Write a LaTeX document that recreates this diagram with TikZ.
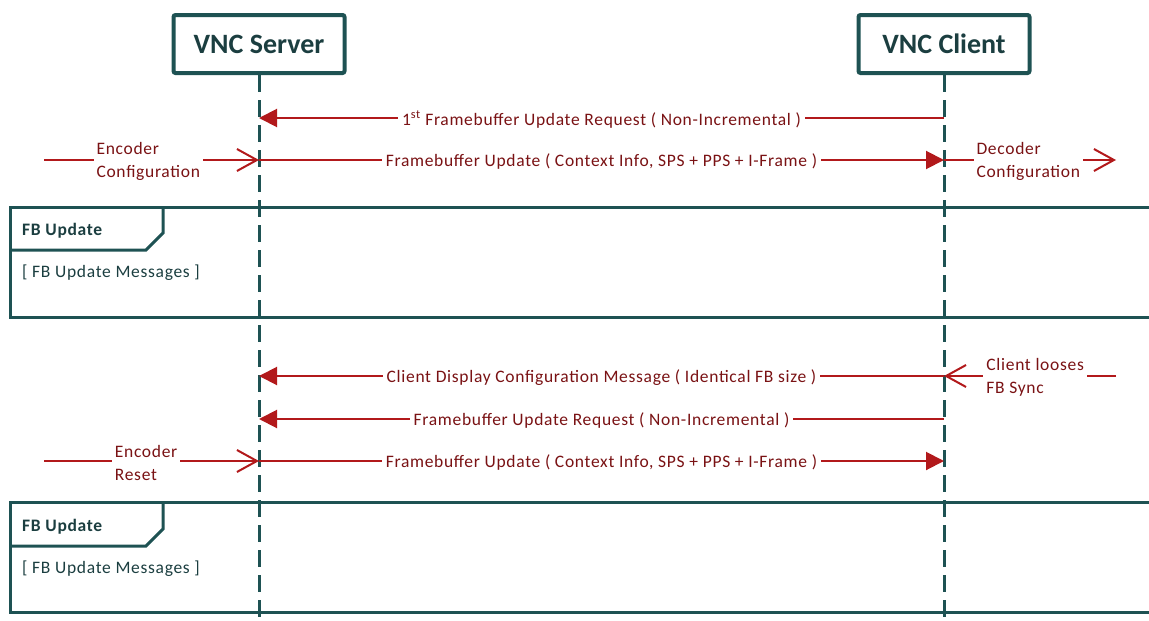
\documentclass[tikz,border=0pt]{standalone}
\usepackage{fontspec}
\setmainfont{Carlito}
\newfontfamily\lsfont[LetterSpace=4]{Carlito}
\usetikzlibrary{arrows.meta}
\definecolor{tealline}{HTML}{1E5253}
\definecolor{tealtext}{HTML}{1B3E40}
\definecolor{msgred}{HTML}{B2191B}
\definecolor{msgtxt}{HTML}{7A1214}
\begin{document}
\begin{tikzpicture}[x=1pt,y=-1pt,
  actor/.style={draw=tealline, line width=4pt, rounded corners=2pt, minimum width=171pt, minimum height=58pt,
    font=\fontsize{28}{32}\selectfont\bfseries, text=tealtext, fill=white},
  lifeline/.style={draw=tealline, line width=3pt, dash pattern=on 17pt off 8pt},
  msg/.style={draw=msgred, line width=2pt},
  sync/.style={msg, -{Triangle[length=18pt,width=18pt]}},
  ext/.style={msg, -{Straight Barb[length=20pt,width=22pt,line width=2pt]}},
  lbl/.style={fill=white, text=msgtxt, font=\lsfont\fontsize{17.5}{23}\selectfont, inner xsep=4pt, inner ysep=1pt, yshift=-1.5pt},
  side/.style={lbl, align=left, inner xsep=3pt},
  frm/.style={draw=tealline, line width=3pt},
  frmhead/.style={anchor=west, text=tealtext, font=\lsfont\fontsize{17.5}{21}\selectfont\bfseries, inner sep=0pt},
  frmtext/.style={anchor=west, text=tealtext, font=\lsfont\fontsize{17.5}{21}\selectfont, inner sep=0pt}
]
\useasboundingbox (0,0) rectangle (1149,621);
\clip (0,0) rectangle (1149,621);

% lifelines
\coordinate (srvEnd) at (259,625);
\coordinate (cliEnd) at (944,625);
\node[actor] (srv) at (259,44) {VNC Server};
\node[actor] (cli) at (944,44) {VNC Client};
\draw[lifeline] (srv.south) -- (srvEnd);
\draw[lifeline] (cli.south) -- (cliEnd);

% frames
\draw[frm] (10,207) rectangle (1165,317);
\draw[frm] (10,250) -- (146,250) -- (163,233) -- (163,207);
\node[frmhead] (f1h) at (22,231) {FB Update};
\node[frmtext] (f1t) at (22,273) {[ FB Update Messages ]};

\draw[frm] (10,502) rectangle (1165,612);
\draw[frm] (10,546) -- (146,546) -- (163,529) -- (163,502);
\node[frmhead] (f2h) at (22,527) {FB Update};
\node[frmtext] (f2t) at (22,569) {[ FB Update Messages ]};

% message anchors
\coordinate (s1) at (259,118); \coordinate (c1) at (944,118);
\coordinate (s2) at (259,160); \coordinate (c2) at (944,160);
\coordinate (s4) at (259,376); \coordinate (c4) at (944,376);
\coordinate (s5) at (259,419); \coordinate (c5) at (944,419);
\coordinate (s6) at (259,461); \coordinate (c6) at (944,461);
\coordinate (encA) at (44,160);
\coordinate (decB) at (1116,160);
\coordinate (lossA) at (1116,376);
\coordinate (rstA) at (44,461);

\draw[sync] (c1) -- node[lbl] (m1) {1\textsuperscript{st} Framebuffer Update Request ( Non-Incremental )} (s1);
\draw[sync] (s2) -- node[lbl] (m2) {Framebuffer Update ( Context Info, SPS + PPS + I-Frame )} (c2);
\draw[ext] (encA) -- node[side, pos=0.485] (enc) {Encoder\\Configuration} (s2);
\draw[ext] (c2) -- node[side, pos=0.49] (dec) {Decoder\\Configuration} (decB);

\draw[sync] (c4) -- node[lbl] (m4) {Client Display Configuration Message ( Identical FB size )} (s4);
\draw[ext] (lossA) -- node[side, pos=0.47] (loss) {Client looses\\FB Sync} (c4);
\draw[sync] (c5) -- node[lbl] (m5) {Framebuffer Update Request ( Non-Incremental )} (s5);
\draw[sync] (s6) -- node[lbl] (m6) {Framebuffer Update ( Context Info, SPS + PPS + I-Frame )} (c6);
\draw[ext] (rstA) -- node[side, pos=0.475] (rst) {Encoder\\Reset} (s6);
\end{tikzpicture}
\end{document}
